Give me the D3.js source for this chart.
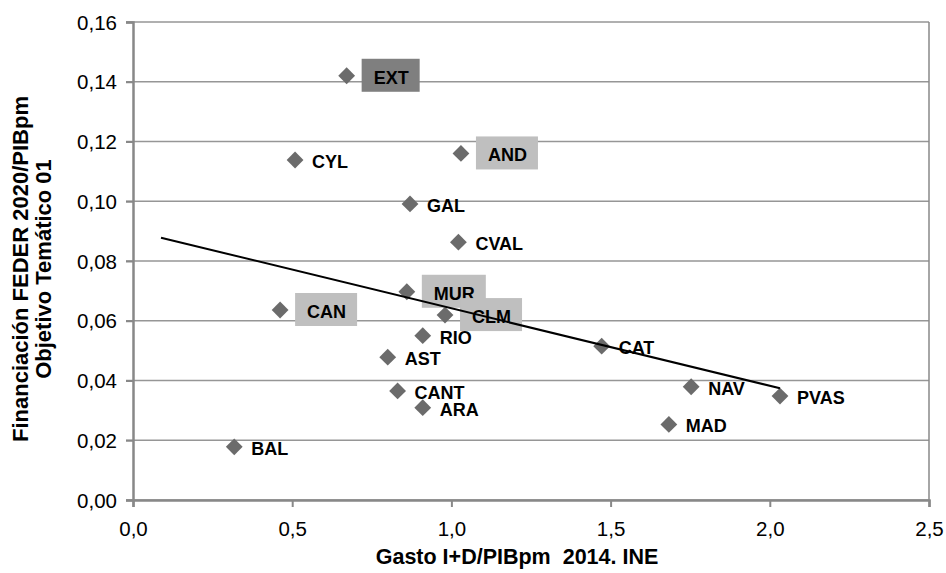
<!DOCTYPE html>
<html>
<head>
    <title>Scatter</title>
    <meta charset="utf-8" />
    <script src="https://cdn.jsdelivr.net/npm/d3@7/dist/d3.min.js"></script>
    <style>
        body { margin: 0; background: #fff; }
        text { font-family: "Liberation Sans", Arial, sans-serif; }
    </style>
</head>
<body>
    <script>
        var regions = ["EXT", "CYL", "AND", "GAL", "CVAL", "MUR", "CAN", "CLM", "RIO", "AST", "CANT", "ARA", "BAL", "CAT", "NAV", "PVAS", "MAD"];
        var gastoID = [0.671, 0.509, 1.030, 0.870, 1.022, 0.860, 0.462, 0.980, 0.910, 0.800, 0.831, 0.910, 0.318, 1.472, 1.753, 2.032, 1.683];
        var feder = [0.1420, 0.1138, 0.1160, 0.0991, 0.0863, 0.0697, 0.0636, 0.0619, 0.0550, 0.0478, 0.0365, 0.0309, 0.0178, 0.0515, 0.0379, 0.0348, 0.0253];
        // label highlight: 0 none, 1 light box, 2 dark box
        var highlight = [2, 0, 1, 0, 0, 1, 1, 1, 0, 0, 0, 0, 0, 0, 0, 0, 0];

        var trendX = [0.088, 2.032];
        var trendY = [0.0878, 0.0374];

        var xTicks = [0, 0.5, 1, 1.5, 2, 2.5];
        var yTicks = [0, 0.02, 0.04, 0.06, 0.08, 0.10, 0.12, 0.14, 0.16];

        var width = 946;
        var height = 573;
        var margin = { left: 133, right: 17, top: 22, bottom: 73 };

        var svg = d3.select("body")
            .append("svg")
            .attr("width", width)
            .attr("height", height);

        var x = d3.scaleLinear().domain([0, 2.5]).range([margin.left, width - margin.right]);
        var y = d3.scaleLinear().domain([0, 0.16]).range([height - margin.bottom, margin.top]);

        var comma = d3.formatLocale({ decimal: ",", thousands: ".", grouping: [3], currency: ["", "€"] });
        var fmtX = comma.format(".1f");
        var fmtY = comma.format(".2f");

        // gridlines
        svg.append("g")
            .selectAll("line")
            .data(yTicks).enter()
            .append("line")
            .attr("x1", x(0) - 7)
            .attr("x2", x(2.5))
            .attr("y1", function (d) { return y(d); })
            .attr("y2", function (d) { return y(d); })
            .style("stroke", "#969696")
            .style("stroke-width", 1.5);

        // axes
        var yAxis = svg.append("g")
            .attr("transform", "translate(" + x(0) + ",0)")
            .call(d3.axisLeft(y).tickValues(yTicks).tickFormat(fmtY).tickSize(7).tickPadding(9));
        var xAxis = svg.append("g")
            .attr("transform", "translate(0," + y(0) + ")")
            .call(d3.axisBottom(x).tickValues(xTicks).tickFormat(fmtX).tickSize(7).tickPadding(10));

        [xAxis, yAxis].forEach(function (a) {
            a.select(".domain").style("stroke", "#888").style("stroke-width", 2.5);
            a.selectAll(".tick line").style("stroke", "#888").style("stroke-width", 2);
            a.selectAll(".tick text")
                .style("font-family", "'Liberation Sans', Arial, sans-serif")
                .style("font-size", "20.5px")
                .style("fill", "#000");
        });
        xAxis.selectAll(".tick text").attr("dy", "0.95em");
        yAxis.selectAll(".tick text").attr("dy", "0.35em");

        // right border
        svg.append("line")
            .attr("x1", x(2.5)).attr("x2", x(2.5))
            .attr("y1", y(0.16)).attr("y2", y(0))
            .style("stroke", "#888")
            .style("stroke-width", 1.5);

        var points = regions.map(function (r, i) {
            return { name: r, gx: gastoID[i], fy: feder[i], hl: highlight[i] };
        });

        // markers
        svg.append("g")
            .selectAll("path")
            .data(points).enter()
            .append("path")
            .attr("d", d3.symbol().type(d3.symbolDiamond2).size(180))
            .attr("transform", function (d) { return "translate(" + x(d.gx) + "," + y(d.fy) + ")"; })
            .style("fill", "#6b6b6b");

        // labels
        var labels = svg.append("g")
            .selectAll("g")
            .data(points).enter()
            .append("g")
            .attr("transform", function (d) { return "translate(" + x(d.gx) + "," + y(d.fy) + ")"; });

        labels.filter(function (d) { return d.hl > 0; })
            .append("rect")
            .attr("x", 15)
            .attr("y", -17)
            .attr("height", 33)
            .style("fill", function (d) { return d.hl == 2 ? "#7f7f7f" : "#bfbfbf"; });

        labels.append("text")
            .attr("x", function (d) { return d.hl > 0 ? 27 : 17; })
            .attr("y", 8)
            .style("font-size", "18px")
            .style("font-weight", "bold")
            .style("fill", "#000")
            .text(function (d) { return d.name; });

        labels.each(function (d) {
            if (d.hl > 0) {
                var w = d3.select(this).select("text").node().getComputedTextLength();
                d3.select(this).select("rect").attr("width", w + 23);
            }
        });

        // trendline
        svg.append("line")
            .attr("x1", x(trendX[0])).attr("y1", y(trendY[0]))
            .attr("x2", x(trendX[1])).attr("y2", y(trendY[1]))
            .style("stroke", "#000")
            .style("stroke-width", 2);

        // axis titles
        svg.append("text")
            .attr("x", 517)
            .attr("y", 564)
            .attr("text-anchor", "middle")
            .style("font-size", "21.5px")
            .style("font-weight", "bold")
            .style("white-space", "pre")
            .text("Gasto I+D/PIBpm  2014. INE");

        var yTitle = svg.append("text")
            .attr("transform", "translate(28,269) rotate(-90)")
            .attr("text-anchor", "middle")
            .style("font-size", "22px")
            .style("font-weight", "bold");
        yTitle.append("tspan").attr("x", 0).attr("y", 0).text("Financiación FEDER 2020/PIBpm");
        yTitle.append("tspan").attr("x", 0).attr("y", 23).text("Objetivo Temático 01");
    </script>
</body>
</html>
